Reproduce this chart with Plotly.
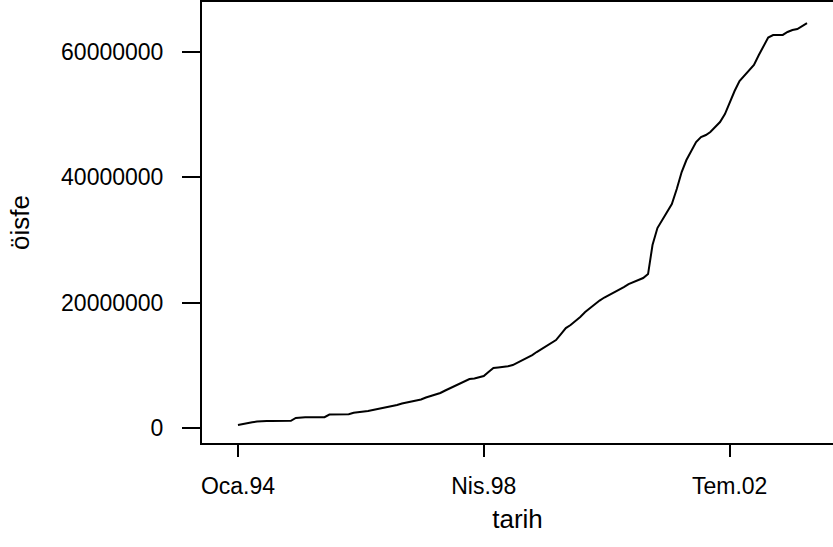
import pandas as pd
import plotly.graph_objects as go

# Monthly values (öisfe), Jan 1994 .. Nov 2003 (millions)
start_month = "1994-01-01"
values_m = [
    0.48, 0.64, 0.85, 0.91, 1.04, 1.12, 1.12, 1.12, 1.12, 1.12, 1.14, 1.15,
    1.60, 1.71, 1.71, 1.71, 1.72, 1.72, 1.73, 2.15, 2.19, 2.19, 2.19, 2.20,
    2.43, 2.51, 2.51, 2.71, 2.87, 3.03, 3.11, 3.27, 3.40, 3.67, 3.91, 4.07,
    4.23, 4.39, 4.55, 4.87, 5.11, 5.35, 5.59, 5.99, 6.38, 6.70, 7.10, 7.42,
    7.82, 7.90, 8.06, 8.30, 8.94, 9.58, 9.66, 9.74, 9.85, 10.05, 10.45, 10.81,
    11.17, 11.65, 12.13, 12.61, 13.09, 13.57, 14.04, 15.00, 15.96, 16.44, 17.08, 17.72,
    18.51, 19.15, 19.79, 20.35, 20.83, 21.23, 21.71, 22.11, 22.50, 22.98, 23.30, 23.54,
    23.94, 24.58, 29.21, 31.92, 33.20, 34.32, 35.75, 38.15, 40.86, 42.78, 44.37, 45.65,
    46.45, 46.77, 47.25, 48.04, 48.84, 50.12, 52.03, 53.79, 55.39, 56.19, 56.98, 57.94,
    59.54, 61.13, 62.33, 62.73, 62.73, 62.75, 63.21, 63.53, 63.69, 64.17, 64.64,
]
values = [v * 1_000_000 for v in values_m]
dates = pd.date_range(start_month, periods=len(values), freq="MS")

tick_dates = ["1994-01-01", "1998-04-01", "2002-07-01"]
tick_labels = ["Oca.94", "Nis.98", "Tem.02"]
y_ticks = [0, 20000000, 40000000, 60000000]
y_tick_labels = ["0", "20000000", "40000000", "60000000"]

font_family = "Liberation Sans, Arial, sans-serif"

fig = go.Figure(
    go.Scatter(x=dates, y=values, mode="lines",
               line=dict(color="black", width=2), showlegend=False)
)

fig.update_layout(
    width=833, height=547,
    margin=dict(l=202, r=0, t=2, b=104, autoexpand=False),
    paper_bgcolor="white", plot_bgcolor="white",
    font=dict(family=font_family, color="black", size=23),
)

fig.update_xaxes(
    range=["1993-05-19", "2004-04-13"],
    tickmode="array", tickvals=tick_dates, ticktext=tick_labels,
    ticks="outside", ticklen=12, tickwidth=2, tickcolor="black",
    showline=True, linecolor="black", linewidth=2, mirror=True,
    showgrid=False, zeroline=False, automargin=False,
    tickfont=dict(size=23), ticklabelstandoff=9,
    title=dict(text="tarih", font=dict(size=26), standoff=12),
)
fig.update_yaxes(
    range=[-2390000, 68000000],
    tickmode="array", tickvals=y_ticks, ticktext=y_tick_labels,
    ticks="outside", ticklen=18, tickwidth=2, tickcolor="black",
    showline=True, linecolor="black", linewidth=2, mirror=False,
    showgrid=False, zeroline=False, automargin=False,
    tickfont=dict(size=23), ticklabelstandoff=14,
    title=dict(text="öisfe", font=dict(size=26), standoff=24),
)

fig.write_html(
    "out.html",
    config={"displayModeBar": False},
    post_script="document.body.style.margin='0';document.body.style.padding='0';",
)
